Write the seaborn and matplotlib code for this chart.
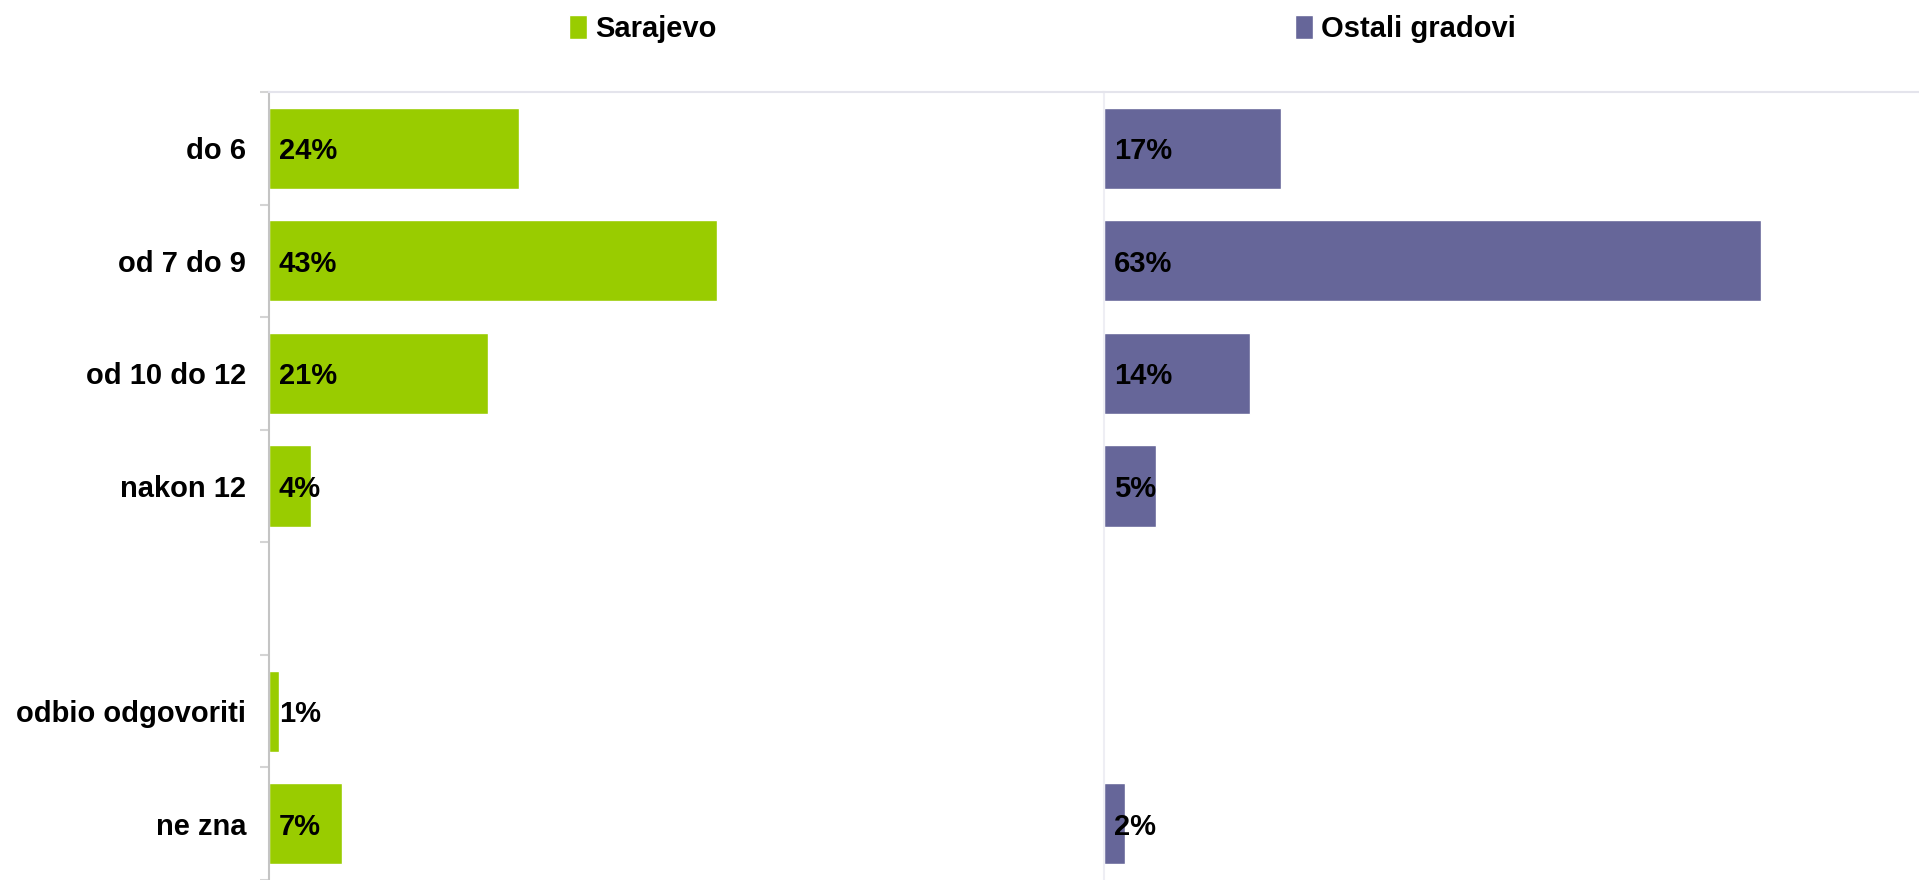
import numpy as np
import pandas as pd
import matplotlib
matplotlib.use('Agg')
import matplotlib.pyplot as plt
from matplotlib.patches import Patch
import seaborn as sns

kategorije = ['do 6', 'od 7 do 9', 'od 10 do 12', 'nakon 12', ' ', 'odbio odgovoriti', 'ne zna']
sarajevo = [24, 43, 21, 4, np.nan, 1, 7]
ostali = [17, 63, 14, 5, np.nan, np.nan, 2]
gradovi = ['Sarajevo', 'Ostali gradovi']
boje = ['#99CC00', '#666699']

sns.set_style('white')
plt.rcParams['font.family'] = ['Liberation Sans', 'DejaVu Sans']
plt.rcParams['text.color'] = 'black'
plt.rcParams['ytick.color'] = 'black'
plt.rcParams['ytick.labelcolor'] = 'black'

df = pd.DataFrame({
    'kategorija': kategorije * 2,
    'vrijednost': sarajevo + ostali,
    'grad': [gradovi[0]] * len(kategorije) + [gradovi[1]] * len(kategorije),
})

W, H = 1919, 880
fig = plt.figure(figsize=(W / 100, H / 100), dpi=100)
ax1 = fig.add_axes([269 / W, 0, 834 / W, 788 / H])
ax2 = fig.add_axes([1104 / W, 0, 815 / W, 788 / H])
FS = 21

for ax, grad, boja, xmax in zip([ax1, ax2], gradovi, boje, [80, 78.2]):
    d = df[df['grad'] == grad]
    sns.barplot(data=d, x='vrijednost', y='kategorija', order=kategorije,
                color=boja, width=0.72, saturation=1, ax=ax, errorbar=None)
    for i, v in enumerate(d['vrijednost']):
        if not np.isnan(v):
            ax.annotate(f'{v:.0f}%', (0, i), xytext=(7, 0), textcoords='offset points',
                        ha='left', va='center_baseline', fontsize=FS, fontweight='bold',
                        color='black')
    ax.set_xlim(0, xmax)
    ax.set_ylim(len(kategorije) - 0.5, -0.5)
    ax.set_xlabel('')
    ax.set_ylabel('')
    ax.set_xticks([])
    for s in ['right', 'bottom']:
        ax.spines[s].set_visible(False)
    ax.spines['top'].set_color('#e4e4ec')
    ax.spines['top'].set_linewidth(1.5)

# lijeva os s oznakama kategorija
ax1.spines['left'].set_color('#c4c4c4')
ax1.spines['left'].set_linewidth(1.5)
ax1.set_yticks(range(len(kategorije)))
ax1.set_yticklabels(kategorije, fontsize=FS, fontweight='bold', color='black')
ax1.tick_params(axis='y', which='major', left=True, length=0, pad=16.5)
ax1.set_yticks(np.arange(-0.5, len(kategorije)), minor=True)
ax1.tick_params(axis='y', which='minor', left=True, length=6.5, width=1.5, color='#d4d4d4')

ax2.spines['left'].set_color('#eeeef4')
ax2.spines['left'].set_linewidth(1.5)
ax2.set_yticks([])

for grad, boja, x0 in zip(gradovi, boje, [569, 1295]):
    fig.legend(handles=[Patch(facecolor=boja, label=grad)], loc='center left',
               bbox_to_anchor=(x0 / W, 1 - 29 / H), frameon=False,
               prop={'size': FS, 'weight': 'bold'}, labelcolor='black', handlelength=0.6,
               handleheight=0.85, handletextpad=0.3, borderpad=0, borderaxespad=0)

fig.savefig('out.png', dpi=100)
